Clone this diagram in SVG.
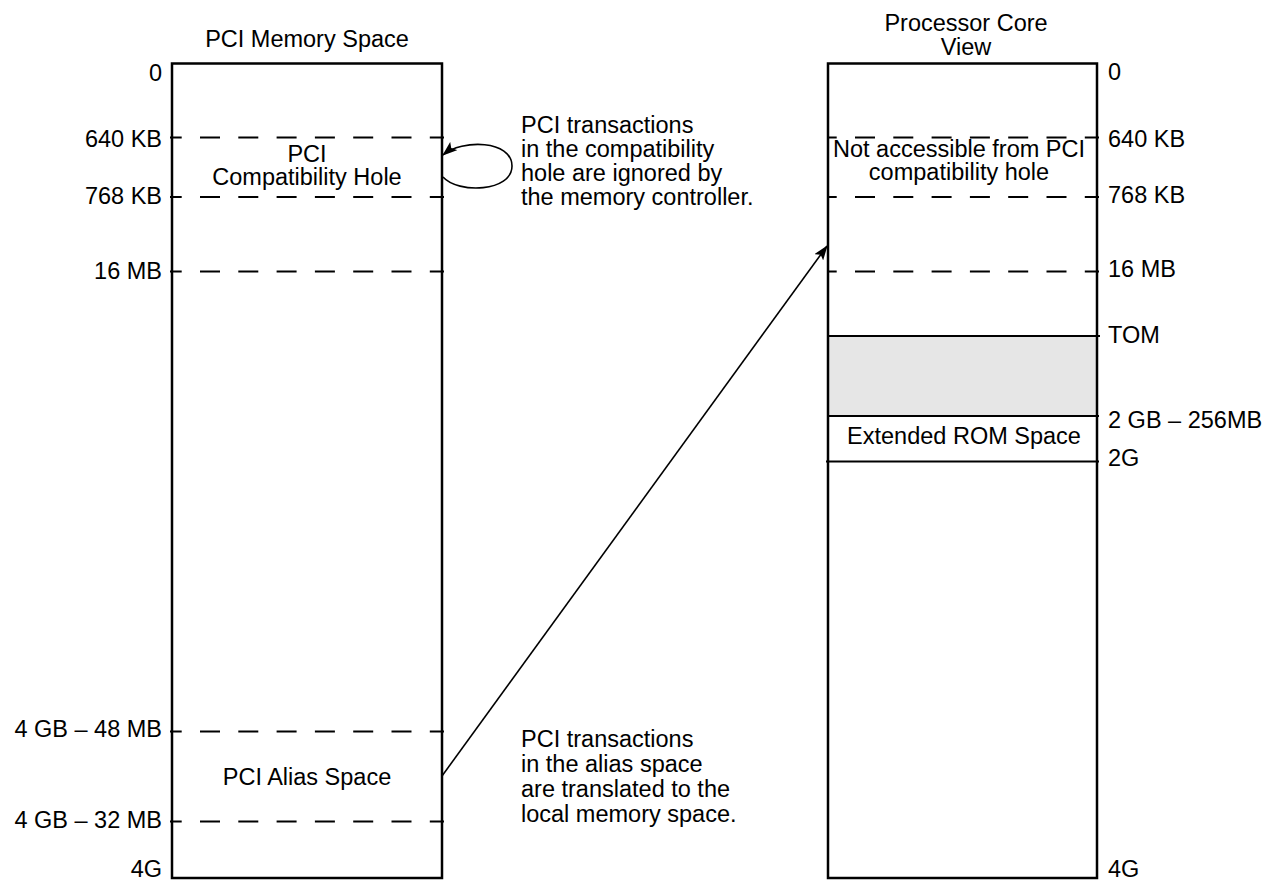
<svg xmlns="http://www.w3.org/2000/svg" width="1268" height="880" viewBox="0 0 1268 880">
<style>
text{font-family:"Liberation Sans",Arial,sans-serif;font-size:23.5px;fill:#000}
.r{text-anchor:end}
.m{text-anchor:middle}
.box{fill:none;stroke:#000;stroke-width:2.5}
.dl{stroke:#000;stroke-width:2;stroke-dasharray:20 18.3;fill:none}
.sl{stroke:#000;stroke-width:2;fill:none}
.arr{stroke:#000;stroke-width:1.6;fill:none}
</style>
<defs>
<marker id="ah" viewBox="0 0 14 10" refX="13" refY="5" markerWidth="15" markerHeight="11" markerUnits="userSpaceOnUse" orient="auto">
<path d="M0,0 L14,5 L0,10 L3,5 z" fill="#000"/>
</marker>
</defs>
<rect width="1268" height="880" fill="#fff"/>

<g id="pci-memory-space">
<text class="m" x="307" y="47">PCI Memory Space</text>
<rect class="box" x="172" y="63.5" width="270" height="814.5"/>
<line class="dl" x1="170" y1="137.5" x2="444" y2="137.5" stroke-dashoffset="8.3"/>
<line class="dl" x1="170" y1="197" x2="444" y2="197" stroke-dashoffset="8.3"/>
<line class="dl" x1="170" y1="271.5" x2="444" y2="271.5" stroke-dashoffset="8.3"/>
<line class="dl" x1="170" y1="731.5" x2="444" y2="731.5" stroke-dashoffset="8.3"/>
<line class="dl" x1="170" y1="821.5" x2="444" y2="821.5" stroke-dashoffset="8.3"/>
<text class="r" x="162" y="81">0</text>
<text class="r" x="162" y="146.5">640 KB</text>
<text class="r" x="162" y="204">768 KB</text>
<text class="r" x="162" y="279">16 MB</text>
<text class="r" x="162" y="737">4 GB – 48 MB</text>
<text class="r" x="162" y="828">4 GB – 32 MB</text>
<text class="r" x="162" y="877">4G</text>
<text class="m" x="307" y="161.5">PCI</text>
<text class="m" x="307" y="185">Compatibility Hole</text>
<text class="m" x="307" y="785">PCI Alias Space</text>
</g>

<g id="processor-core-view">
<text class="m" x="966" y="31">Processor Core</text>
<text class="m" x="966" y="55">View</text>
<rect x="828" y="336" width="269" height="80" fill="#e6e6e6"/>
<rect class="box" x="828" y="63.5" width="269" height="814.5"/>
<line class="dl" x1="828" y1="137.5" x2="1099" y2="137.5" stroke-dashoffset="11.3"/>
<line class="dl" x1="828" y1="197" x2="1099" y2="197" stroke-dashoffset="11.3"/>
<line class="dl" x1="828" y1="271.5" x2="1099" y2="271.5" stroke-dashoffset="11.3"/>
<line class="sl" x1="828" y1="336" x2="1100" y2="336"/>
<line class="sl" x1="828" y1="416" x2="1099" y2="416"/>
<line class="sl" x1="826" y1="461.5" x2="1099" y2="461.5"/>
<text x="1108" y="80">0</text>
<text x="1108" y="146.5">640 KB</text>
<text x="1108" y="203">768 KB</text>
<text x="1108" y="277">16 MB</text>
<text x="1108" y="343">TOM</text>
<text x="1108" y="428">2 GB – 256MB</text>
<text x="1108" y="466">2G</text>
<text x="1108" y="877">4G</text>
<text class="m" x="959" y="156.5">Not accessible from PCI</text>
<text class="m" x="959" y="180">compatibility hole</text>
<text class="m" x="964" y="444">Extended ROM Space</text>
</g>

<g id="note-compat">
<text x="521" y="133">PCI transactions</text>
<text x="521" y="157">in the compatibility</text>
<text x="521" y="181">hole are ignored by</text>
<text x="521" y="205">the memory controller.</text>
</g>

<g id="note-alias">
<text x="521" y="747">PCI transactions</text>
<text x="521" y="772">in the alias space</text>
<text x="521" y="797">are translated to the</text>
<text x="521" y="822">local memory space.</text>
</g>

<g id="connectors">
<path class="arr" d="M443,177 C458,194 512,192 512,166 C512,140 462,139 443,155" marker-end="url(#ah)"/>
<line class="arr" x1="442" y1="776" x2="827" y2="246" marker-end="url(#ah)"/>
</g>
</svg>
